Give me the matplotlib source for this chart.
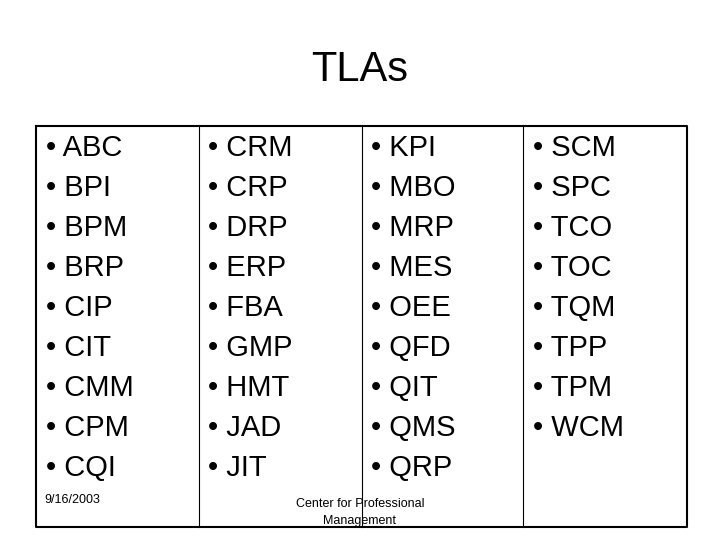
import matplotlib.pyplot as plt

col1 = ['ABC', 'BPI', 'BPM', 'BRP', 'CIP', 'CIT', 'CMM', 'CPM', 'CQI']
col2 = ['CRM', 'CRP', 'DRP', 'ERP', 'FBA', 'GMP', 'HMT', 'JAD', 'JIT']
col3 = ['KPI', 'MBO', 'MRP', 'MES', 'OEE', 'QFD', 'QIT', 'QMS', 'QRP']
col4 = ['SCM', 'SPC', 'TCO', 'TOC', 'TQM', 'TPP', 'TPM', 'WCM']
columns = [col1, col2, col3, col4]

plt.rcParams['font.family'] = ['Liberation Sans', 'DejaVu Sans']
fig = plt.figure(figsize=(7.2, 5.4), dpi=100)
ax = fig.add_axes([0, 0, 1, 1])
ax.set_xlim(0, 720)
ax.set_ylim(540, 0)
ax.axis('off')

ax.text(360, 70, 'TLAs', fontsize=30, ha='center', va='center')

# table frame
ax.plot([36, 687, 687, 36, 36], [126, 126, 527, 527, 126], color='k', lw=1.5)
for x in [199, 362, 523]:
    ax.plot([x, x], [126, 527], color='k', lw=0.8)

xs = [46, 208, 371, 533]
for x, col in zip(xs, columns):
    for i, name in enumerate(col):
        ax.text(x, 148 + i * 40, '\u2022 ' + name, fontsize=21, va='center', ha='left')

ax.text(44, 500, '9/16/2003', fontsize=9, va='center', ha='left')
ax.text(360, 504, 'Center for Professional', fontsize=9, va='center', ha='center')
ax.text(360, 521, 'Management', fontsize=9, va='center', ha='center')

plt.savefig('out.png', dpi=100)
